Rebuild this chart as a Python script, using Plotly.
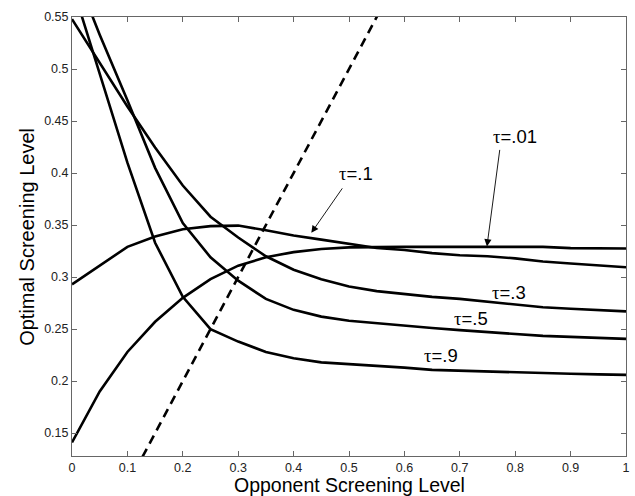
import plotly.graph_objects as go

# opponent screening level grid
x_vals = [0, 0.05, 0.1, 0.15, 0.2, 0.25, 0.3, 0.35, 0.4, 0.45, 0.5,
          0.55, 0.6, 0.65, 0.7, 0.75, 0.8, 0.85, 0.9, 0.95, 1.0]

tau_001 = [0.141, 0.190, 0.228, 0.257, 0.280, 0.298, 0.311, 0.319, 0.324, 0.327, 0.3285,
           0.329, 0.329, 0.329, 0.329, 0.329, 0.329, 0.329, 0.3278, 0.3275, 0.3275]
tau_01 = [0.293, 0.311, 0.329, 0.339, 0.346, 0.349, 0.3495, 0.345, 0.340, 0.336, 0.332,
          0.328, 0.326, 0.323, 0.321, 0.320, 0.318, 0.315, 0.313, 0.311, 0.3095]
tau_03 = [0.548, 0.506, 0.464, 0.4245, 0.388, 0.358, 0.338, 0.320, 0.307, 0.298, 0.291,
          0.2865, 0.2835, 0.281, 0.279, 0.2765, 0.2735, 0.271, 0.2695, 0.268, 0.267]
tau_05 = [0.600, 0.533, 0.470, 0.405, 0.352, 0.319, 0.2965, 0.279, 0.2685, 0.262, 0.258,
          0.2555, 0.253, 0.251, 0.249, 0.247, 0.2448, 0.2435, 0.2425, 0.2415, 0.2406]
tau_09 = [0.581, 0.495, 0.410, 0.333, 0.281, 0.250, 0.238, 0.228, 0.222, 0.218, 0.2165,
          0.215, 0.213, 0.2108, 0.210, 0.209, 0.208, 0.2075, 0.207, 0.2065, 0.206]

# 45-degree reference line
diag_x = [0, 1]
diag_y = [0, 1]

x_ticks = [0, 0.1, 0.2, 0.3, 0.4, 0.5, 0.6, 0.7, 0.8, 0.9, 1]
x_tick_labels = ["0", "0.1", "0.2", "0.3", "0.4", "0.5", "0.6", "0.7", "0.8", "0.9", "1"]
y_ticks = [0.15, 0.2, 0.25, 0.3, 0.35, 0.4, 0.45, 0.5, 0.55]
y_tick_labels = ["0.15", "0.2", "0.25", "0.3", "0.35", "0.4", "0.45", "0.5", "0.55"]

FONT = "Liberation Sans, Arial, Helvetica, sans-serif"
TAU = "<span style='font-family:Liberation Serif'>τ</span>"

fig = go.Figure()
for ys in [tau_001, tau_01, tau_03, tau_05, tau_09]:
    fig.add_trace(go.Scatter(x=x_vals, y=ys, mode="lines",
                             line=dict(color="black", width=2.6),
                             hoverinfo="skip", showlegend=False))
fig.add_trace(go.Scatter(x=diag_x, y=diag_y, mode="lines",
                         line=dict(color="black", width=2.6, dash="9px,6px"),
                         hoverinfo="skip", showlegend=False))

axis_common = dict(showgrid=False, zeroline=False, showline=True, linecolor="#666",
                   linewidth=1, mirror="ticks", ticks="inside", ticklen=5,
                   tickcolor="#666", tickfont=dict(family=FONT, size=12.5, color="#222"))

fig.update_xaxes(range=[0, 1], tickvals=x_ticks, ticktext=x_tick_labels, **axis_common)
fig.update_yaxes(range=[0.128, 0.55], tickvals=y_ticks, ticktext=y_tick_labels, **axis_common)

annotations = [
    dict(x=0.5, y=(456 - 485) / 439, xref="paper", yref="paper", text="Opponent Screening Level",
         showarrow=False, font=dict(family=FONT, size=19.5, color="black"),
         xanchor="center", yanchor="middle", borderpad=0),
    dict(x=-0.0824, y=0.5, xref="paper", yref="paper", text="Optimal Screening Level",
         showarrow=False, textangle=-90, font=dict(family=FONT, size=20, color="black"),
         xanchor="center", yanchor="middle"),
    # arrows
    dict(x=0.749, y=0.3295, xref="x", yref="y", ax=13, ay=-98, text="",
         showarrow=True, arrowhead=2, arrowsize=1.6, arrowwidth=0.9, arrowcolor="black"),
    dict(x=0.432, y=0.3425, xref="x", yref="y", ax=32, ay=-46, text="",
         showarrow=True, arrowhead=2, arrowsize=1.6, arrowwidth=0.9, arrowcolor="black"),
    # labels
    dict(x=(518 - 72) / 558, y=0.55 - (137 - 17.5) / 1040, xref="x", yref="y",
         text=TAU + "=.01", showarrow=False, font=dict(family=FONT, size=18.5, color="black")),
    dict(x=(358 - 72) / 558, y=0.55 - (174 - 17.5) / 1040, xref="x", yref="y",
         text=TAU + "=.1", showarrow=False, font=dict(family=FONT, size=18.5, color="black")),
    dict(x=(512 - 72) / 558, y=0.55 - (293 - 17.5) / 1040, xref="x", yref="y",
         text=TAU + "=.3", showarrow=False, font=dict(family=FONT, size=18.5, color="black")),
    dict(x=(474 - 72) / 558, y=0.55 - (319 - 17.5) / 1040, xref="x", yref="y",
         text=TAU + "=.5", showarrow=False, font=dict(family=FONT, size=18.5, color="black")),
    dict(x=(444 - 72) / 558, y=0.55 - (356 - 17.5) / 1040, xref="x", yref="y",
         text=TAU + "=.9", showarrow=False, font=dict(family=FONT, size=18.5, color="black")),
]

fig.update_layout(width=635, height=496, margin=dict(l=72, r=5, t=17, b=40),
                  paper_bgcolor="white", plot_bgcolor="white",
                  annotations=annotations, showlegend=False)

fig.write_html("out.html", config={"displayModeBar": False},
               post_script="document.body.style.margin='0';document.body.style.overflow='hidden';")
